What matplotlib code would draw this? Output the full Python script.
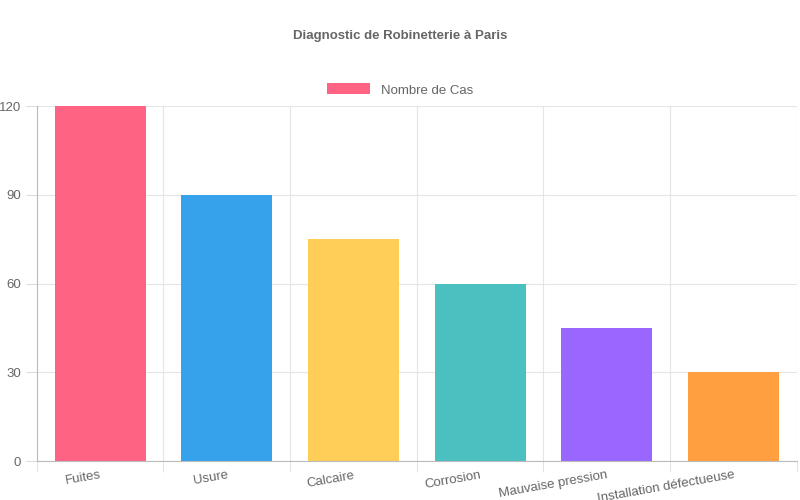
import matplotlib.pyplot as plt
import numpy as np

plt.rcParams['font.family'] = ['Liberation Sans', 'DejaVu Sans']

categories = ["Fuites", "Usure", "Calcaire", "Corrosion", "Mauvaise pression", "Installation défectueuse"]
values = [120, 90, 75, 60, 45, 30]
colors = ["#FF6384", "#36A2EB", "#FFCE56", "#4BC0C0", "#9966FF", "#FF9F40"]

fig = plt.figure(figsize=(8, 5), dpi=100)
ax = fig.add_axes([0.046, 0.078, 0.95, 0.71])

x = np.arange(len(categories))
bars = ax.bar(x, values, width=0.72, color=colors, label="Nombre de Cas")

ax.set_xlim(-0.5, len(categories) - 0.5)
ax.set_ylim(0, 120)
ax.set_yticks([0, 30, 60, 90, 120])
ax.set_xticks(x)
ax.set_xticklabels(categories, rotation=10, ha="right", rotation_mode="anchor",
                   color="#666666", fontsize=9.5)
ax.set_xticks(np.arange(len(categories) + 1) - 0.5, minor=True)
ax.tick_params(axis="x", which="major", length=0, pad=6)
ax.tick_params(axis="x", which="minor", length=8, color="#dddddd")
ax.tick_params(axis="y", length=8, color="#dddddd", labelcolor="#666666", labelsize=9.5)
ax.grid(True, axis="y", color="#e5e5e5", linewidth=0.8)
ax.grid(True, axis="x", which="minor", color="#e5e5e5", linewidth=0.8)
ax.set_axisbelow(True)
for s in ["top", "right"]:
    ax.spines[s].set_visible(False)
for s in ["left", "bottom"]:
    ax.spines[s].set_color("#bbbbbb")

fig.text(0.5, 0.927, "Diagnostic de Robinetterie à Paris", ha="center", va="center",
         fontsize=9.5, fontweight="bold", color="#666666")
leg = fig.legend(handles=[bars], loc="center", bbox_to_anchor=(0.5, 0.82), frameon=False,
                 handlelength=3.3, handleheight=0.9, fontsize=9.5)
for t in leg.get_texts():
    t.set_color("#666666")

fig.savefig("out.png")
